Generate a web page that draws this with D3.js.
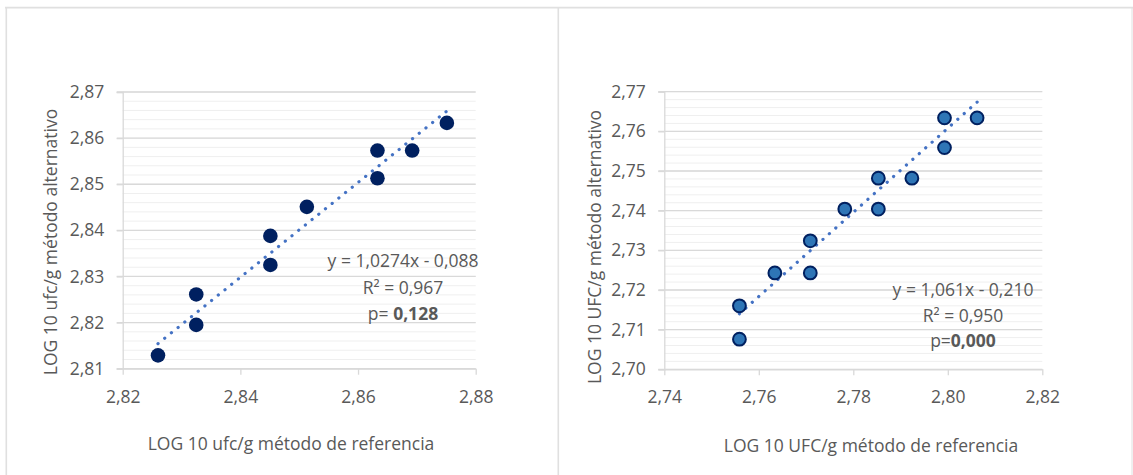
<!DOCTYPE html>
<html>
<head>
<meta charset="utf-8">
<script src="https://cdn.jsdelivr.net/npm/d3@7"></script>
<style>
  body { margin: 0; background: #fff; }
  svg text { font-family: "Open Sans", "Noto Sans", sans-serif; fill: #595959; }
</style>
</head>
<body>
<div id="chart"></div>
<script>
// data
const leftX = [2.826, 2.8325, 2.8325, 2.8451, 2.8451, 2.8513, 2.8633, 2.8633, 2.8692, 2.8751];
const leftY = [2.8129, 2.8261, 2.8195, 2.8388, 2.8325, 2.8451, 2.8573, 2.8513, 2.8573, 2.8633];
const leftXTicks = [2.82, 2.84, 2.86, 2.88];
const leftYTicks = [2.81, 2.82, 2.83, 2.84, 2.85, 2.86, 2.87];
const leftFit = [1.0274, -0.088];
const leftStats = ["y = 1,0274x - 0,088", "R² = 0,967", "p= ", "0,128"];

const rightX = [2.7559, 2.7559, 2.7634, 2.7709, 2.7709, 2.7782, 2.7853, 2.7853, 2.7924, 2.7993, 2.7993, 2.8062];
const rightY = [2.716, 2.7076, 2.7243, 2.7324, 2.7243, 2.7404, 2.7404, 2.7482, 2.7482, 2.7634, 2.7559, 2.7634];
const rightXTicks = [2.74, 2.76, 2.78, 2.8, 2.82];
const rightYTicks = [2.7, 2.71, 2.72, 2.73, 2.74, 2.75, 2.76, 2.77];
const rightFit = [1.061, -0.21];
const rightStats = ["y = 1,061x - 0,210", "R² = 0,950", "p=", "0,000"];

const W = 1133, H = 475;
const fmt = d3.formatLocale({ decimal: ",", thousands: ".", grouping: [3], currency: ["", ""] }).format(".2f");

const svg = d3.select("#chart").append("svg")
  .attr("width", W).attr("height", H);

// cell borders
const border = svg.append("g").attr("stroke", "#e0e0e0").attr("stroke-width", 1.6);
border.append("line").attr("x1", 5).attr("x2", W).attr("y1", 7.6).attr("y2", 7.6);
border.append("line").attr("x1", 6.3).attr("x2", 6.3).attr("y1", 7).attr("y2", H);
border.append("line").attr("x1", 558.3).attr("x2", 558.3).attr("y1", 7).attr("y2", H);
border.append("line").attr("x1", 1132).attr("x2", 1132).attr("y1", 7).attr("y2", H).attr("stroke-width", 1);

function panel(cfg) {
  const x = d3.scaleLinear().domain(d3.extent(cfg.xTicks)).range([cfg.left, cfg.right]);
  const y = d3.scaleLinear().domain(d3.extent(cfg.yTicks)).range([cfg.bottom, cfg.top]);
  const g = svg.append("g");

  // minor gridlines
  const minor = d3.range(y.domain()[0], y.domain()[1] + 1e-9, 0.002);
  g.append("g").selectAll("line").data(minor).join("line")
    .attr("x1", cfg.left).attr("x2", cfg.right)
    .attr("y1", d => y(d)).attr("y2", d => y(d))
    .attr("stroke", "#efefef").attr("stroke-width", 1);

  // major gridlines
  g.append("g").selectAll("line").data(cfg.yTicks).join("line")
    .attr("x1", cfg.left - 6).attr("x2", cfg.right)
    .attr("y1", d => y(d)).attr("y2", d => y(d))
    .attr("stroke", "#d9d9d9").attr("stroke-width", 1.3);

  // y axis
  const ya = g.append("g").attr("transform", `translate(${cfg.left},0)`)
    .call(d3.axisLeft(y).tickValues(cfg.yTicks).tickFormat(fmt).tickSize(6).tickPadding(12.5));
  ya.select(".domain").attr("stroke", "#d9d9d9").attr("stroke-width", 1.3);
  ya.selectAll(".tick line").attr("stroke", "#d9d9d9").attr("stroke-width", 1.3);

  // x axis
  const xa = g.append("g").attr("transform", `translate(0,${cfg.bottom})`)
    .call(d3.axisBottom(x).tickValues(cfg.xTicks).tickFormat(fmt).tickSize(6).tickSizeOuter(0));
  xa.select(".domain").attr("stroke", "#d9d9d9").attr("stroke-width", 1.3);
  xa.selectAll(".tick line").attr("stroke", "#d9d9d9").attr("stroke-width", 1.3);
  xa.selectAll(".tick text").attr("dy", null).attr("y", 34);

  g.selectAll(".tick text").attr("fill", "#595959")
    .style("font-size", "17.5px").style("font-family", '"Open Sans", sans-serif');

  // trend line
  const xs = d3.extent(cfg.xs);
  const trend = xs.map(v => [v, cfg.fit[0] * v + cfg.fit[1]]);
  g.append("path")
    .datum(trend)
    .attr("d", d3.line().x(d => x(d[0])).y(d => y(d[1])))
    .attr("fill", "none")
    .attr("stroke", "#4472c4")
    .attr("stroke-width", 3.2)
    .attr("stroke-linecap", "round")
    .attr("stroke-dasharray", "0.1 8.5");

  // points
  g.append("g").selectAll("circle").data(cfg.xs).join("circle")
    .attr("cx", d => x(d))
    .attr("cy", (d, i) => y(cfg.ys[i]))
    .attr("r", cfg.r)
    .attr("fill", cfg.fill)
    .attr("stroke", cfg.stroke)
    .attr("stroke-width", cfg.strokeWidth);

  // regression text
  const st = g.append("g").attr("text-anchor", "middle").style("font-size", "17.5px");
  st.append("text").attr("x", cfg.statX).attr("y", cfg.statY).text(cfg.stats[0]);
  st.append("text").attr("x", cfg.statX).attr("y", cfg.statY + cfg.statGap).text(cfg.stats[1]);
  const p = st.append("text").attr("x", cfg.statX).attr("y", cfg.statY + 2 * cfg.statGap);
  p.append("tspan").text(cfg.stats[2]);
  p.append("tspan").attr("font-weight", "bold").text(cfg.stats[3]);

  // axis titles
  g.append("text")
    .attr("transform", `translate(${cfg.yTitleX},${cfg.yTitleY}) rotate(-90)`)
    .attr("text-anchor", "middle")
    .style("font-size", "17.5px")
    .text(cfg.yTitle);
  g.append("text")
    .attr("x", cfg.xTitleX).attr("y", cfg.xTitleY)
    .attr("text-anchor", "middle")
    .style("font-size", "17.5px")
    .text(cfg.xTitle);
}

panel({
  xs: leftX, ys: leftY, xTicks: leftXTicks, yTicks: leftYTicks, fit: leftFit, stats: leftStats,
  left: 122.7, right: 475.7, top: 92, bottom: 368.7,
  r: 7.3, fill: "#002060", stroke: "#002060", strokeWidth: 0,
  statX: 403, statY: 267, statGap: 26.5,
  yTitle: "LOG 10 ufc/g método alternativo", yTitleX: 57, yTitleY: 242,
  xTitle: "LOG 10 ufc/g método de referencia", xTitleX: 291, xTitleY: 450
});

panel({
  xs: rightX, ys: rightY, xTicks: rightXTicks, yTicks: rightYTicks, fit: rightFit, stats: rightStats,
  left: 664.3, right: 1042.3, top: 91.7, bottom: 369.3,
  r: 6.4, fill: "#2e75b6", stroke: "#002060", strokeWidth: 2,
  statX: 963, statY: 296, statGap: 25.7,
  yTitle: "LOG 10 UFC/g método alternativo", yTitleX: 601, yTitleY: 247,
  xTitle: "LOG 10 UFC/g método de referencia", xTitleX: 871, xTitleY: 452
});
</script>
</body>
</html>
